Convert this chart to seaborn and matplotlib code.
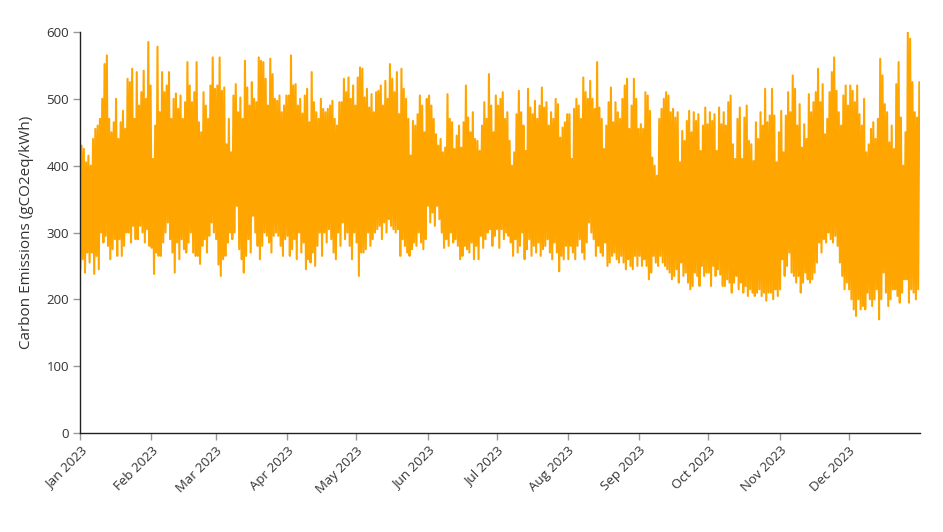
import numpy as np
import pandas as pd
import matplotlib
matplotlib.use("Agg")
import matplotlib.pyplot as plt
import seaborn as sns

# Daily high / low carbon intensity (gCO2eq/kWh), month by month
high_jan = [430, 425, 405, 415, 400, 440, 455, 460, 470, 500, 552, 565, 470, 450, 465, 500, 440,
            465, 482, 455, 530, 525, 545, 470, 540, 490, 510, 542, 500, 585, 520]
low_jan = [245, 260, 240, 270, 255, 270, 238, 265, 245, 300, 285, 295, 280, 260, 275, 290, 265,
           290, 265, 280, 300, 300, 285, 310, 290, 290, 310, 300, 285, 305, 280]
high_feb = [410, 460, 578, 480, 540, 510, 520, 540, 470, 500, 508, 485, 505, 470, 495, 555,
            520, 495, 510, 555, 465, 450, 510, 490, 470, 520, 562, 515]
low_feb = [277, 238, 270, 265, 265, 285, 300, 315, 290, 270, 240, 285, 260, 290, 275, 270,
           285, 300, 270, 265, 265, 253, 280, 290, 270, 295, 315, 300]
high_mar = [520, 562, 512, 517, 432, 470, 420, 505, 522, 480, 502, 470, 557, 517, 490, 525, 500,
            495, 562, 557, 555, 530, 490, 560, 537, 500, 497, 505, 480, 490, 505]
low_mar = [290, 252, 235, 260, 265, 285, 300, 290, 300, 340, 275, 260, 240, 265, 290, 270, 325,
           300, 280, 260, 280, 300, 295, 285, 270, 295, 300, 295, 280, 265, 290]
high_apr = [505, 565, 520, 522, 490, 500, 478, 505, 515, 465, 540, 495, 480, 470, 500, 485,
            480, 485, 490, 497, 470, 460, 495, 495, 530, 510, 532, 500, 520, 490]
low_apr = [295, 265, 275, 290, 260, 300, 270, 285, 245, 260, 255, 270, 250, 280, 300, 265,
           300, 285, 305, 290, 270, 260, 300, 280, 315, 290, 300, 280, 260, 300]
high_may = [532, 547, 545, 502, 515, 487, 507, 480, 510, 512, 520, 490, 527, 500, 552, 530, 510,
            540, 477, 545, 515, 500, 470, 415, 467, 460, 477, 505, 490, 450, 500]
low_may = [285, 235, 270, 270, 275, 300, 280, 290, 300, 305, 310, 290, 315, 300, 320, 310, 305,
           300, 305, 265, 290, 280, 270, 265, 275, 285, 280, 300, 285, 275, 290]
high_jun = [505, 490, 470, 447, 430, 440, 420, 427, 507, 470, 465, 425, 445, 460, 427, 465,
            520, 472, 450, 480, 440, 437, 422, 460, 495, 470, 537, 490, 450, 505]
low_jun = [340, 315, 330, 310, 340, 320, 300, 277, 290, 280, 300, 285, 290, 280, 260, 265,
           280, 275, 270, 285, 260, 280, 260, 295, 277, 290, 300, 305, 280, 295]
high_jul = [490, 500, 510, 470, 480, 437, 400, 420, 477, 512, 480, 460, 422, 515, 487, 477,
            497, 470, 490, 517, 487, 495, 460, 480, 470, 500, 492, 442, 457, 465, 477]
low_jul = [305, 277, 305, 290, 300, 295, 285, 265, 290, 270, 280, 300, 260, 275, 290, 265,
           280, 270, 285, 265, 275, 280, 290, 270, 260, 285, 270, 242, 265, 260, 280]
high_aug = [477, 410, 485, 500, 490, 470, 532, 510, 500, 527, 500, 485, 555, 487, 470, 425,
            460, 495, 517, 465, 495, 480, 470, 500, 520, 530, 455, 490, 530, 500, 455]
low_aug = [260, 280, 270, 260, 280, 290, 270, 260, 285, 315, 300, 290, 265, 280, 270, 265,
           285, 250, 255, 265, 270, 260, 255, 265, 255, 245, 260, 250, 245, 265, 250]
high_sep = [462, 455, 510, 505, 482, 412, 400, 385, 470, 485, 500, 510, 505, 480, 485, 472,
            480, 405, 452, 437, 467, 482, 450, 480, 467, 477, 422, 460, 487, 462]
low_sep = [265, 250, 260, 250, 230, 240, 265, 255, 250, 265, 255, 250, 245, 240, 230, 235,
           245, 225, 255, 235, 240, 225, 215, 220, 240, 235, 220, 250, 235, 240]
high_oct = [480, 467, 477, 422, 487, 462, 480, 460, 495, 505, 432, 410, 470, 487, 410, 472,
            490, 437, 432, 407, 465, 440, 480, 460, 515, 465, 475, 515, 475, 405, 450]
low_oct = [240, 220, 250, 235, 245, 237, 220, 220, 230, 225, 210, 225, 235, 215, 225, 210,
           220, 205, 215, 210, 205, 210, 215, 205, 210, 198, 210, 210, 200, 215, 205]
high_nov = [482, 420, 475, 510, 480, 535, 515, 460, 492, 427, 462, 440, 507, 480, 495, 510,
            545, 495, 522, 447, 470, 510, 540, 562, 512, 480, 460, 505, 520, 490]
low_nov = [215, 260, 235, 250, 270, 240, 235, 225, 235, 210, 225, 240, 230, 225, 230, 240,
           255, 285, 270, 290, 285, 300, 290, 285, 295, 280, 255, 235, 215, 225]
high_dec = [520, 512, 495, 520, 477, 460, 500, 420, 432, 455, 465, 440, 470, 560, 535, 492,
            480, 435, 460, 425, 522, 555, 472, 400, 450, 600, 590, 525, 480, 472, 525]
low_dec = [215, 200, 185, 175, 200, 185, 190, 185, 210, 200, 190, 200, 215, 170, 200, 240,
           210, 190, 200, 215, 215, 205, 195, 210, 230, 230, 195, 215, 210, 200, 215]

month_labels = ["Jan 2023", "Feb 2023", "Mar 2023", "Apr 2023", "May 2023", "Jun 2023",
                "Jul 2023", "Aug 2023", "Sep 2023", "Oct 2023", "Nov 2023", "Dec 2023"]
y_ticks = [0, 100, 200, 300, 400, 500, 600]

highs = (high_jan + high_feb + high_mar + high_apr + high_may + high_jun +
         high_jul + high_aug + high_sep + high_oct + high_nov + high_dec)
lows = (low_jan + low_feb + low_mar + low_apr + low_may + low_jun +
        low_jul + low_aug + low_sep + low_oct + low_nov + low_dec)

days = pd.date_range("2023-01-01", "2023-12-31", freq="D")
times, vals = [], []
for d, lo, hi in zip(days, lows, highs):
    times += [d + pd.Timedelta(hours=4), d + pd.Timedelta(hours=16)]
    vals += [lo, hi]
df = pd.DataFrame({"time": times, "value": vals})

sns.set_style("white")
plt.rcParams['font.family'] = ['Open Sans', 'DejaVu Sans']

fig = plt.figure(figsize=(9.43, 5.32), dpi=100)
ax = fig.add_axes([80 / 943, 1 - 433 / 532, 840 / 943, 401 / 532])
sns.lineplot(data=df, x="time", y="value", ax=ax, color="#FFA500", linewidth=1.5,
             estimator=None, sort=False)

ax.set_xlim(pd.Timestamp("2023-01-01"), pd.Timestamp("2023-12-31 23:00"))
ax.set_ylim(0, 600)
ax.set_yticks(y_ticks)
ax.set_yticklabels([str(v) for v in y_ticks])
month_starts = pd.date_range("2023-01-01", periods=12, freq="MS")
ax.set_xticks(month_starts)
ax.set_xticklabels(month_labels, rotation=45, ha="right", rotation_mode="anchor")
ax.tick_params(axis="both", which="major", bottom=True, left=True, labelsize=9.5,
               labelcolor="#333333", length=5, width=1, direction="out",
               color="#999999", pad=3)
ax.set_xlabel("")
ax.set_ylabel("Carbon Emissions (gCO2eq/kWh)", fontsize=11, color="#333333", labelpad=9)
for s in ["top", "right"]:
    ax.spines[s].set_visible(False)
for s in ["left", "bottom"]:
    ax.spines[s].set_color("#222222")
    ax.spines[s].set_linewidth(1)
ax.grid(False)

fig.savefig("out.png", dpi=100)
